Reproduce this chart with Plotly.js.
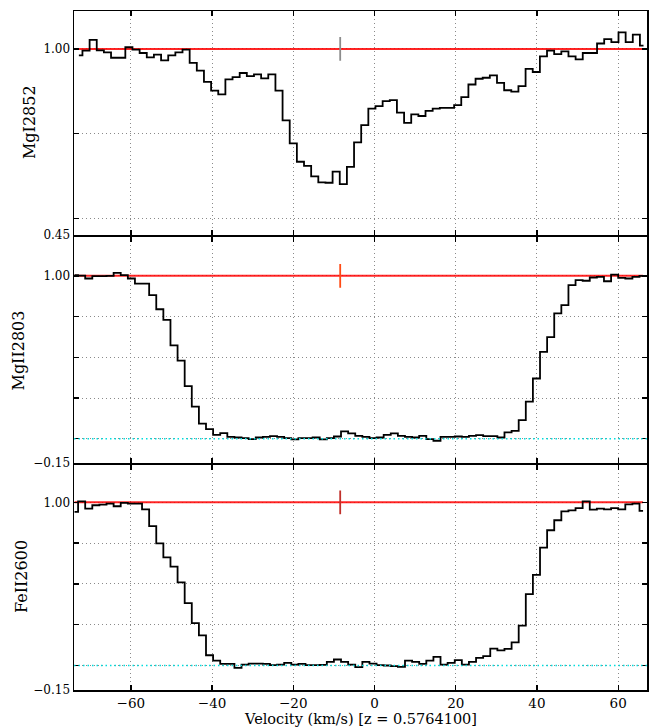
<!DOCTYPE html>
<html>
<head>
<meta charset="utf-8">
<script src="https://cdn.plot.ly/plotly-3.0.1.min.js"></script>
<style>html,body{margin:0;padding:0;background:#fff;}#chart{width:651px;height:727px;}</style>
</head>
<body>
<div id="chart"></div>
<script>
// ---- data ----
const transitions = ['MgI2852', 'MgII2803', 'FeII2600'];
const redshiftLabel = 'Velocity (km/s) [z = 0.5764100]';

// velocity pixel centres for MgI2852 (km/s)
const velMgI2852 = [-72.8, -71.04, -69.28, -67.52, -65.76, -64.0, -62.24, -60.48, -58.72, -56.96,
  -55.2, -53.44, -51.68, -49.92, -48.16, -46.4, -44.64, -42.88, -41.12, -39.36,
  -37.6, -35.84, -34.08, -32.32, -30.56, -28.8, -27.04, -25.28, -23.52, -21.76,
  -20.0, -18.24, -16.48, -14.72, -12.96, -11.2, -9.44, -7.68, -5.92, -4.16,
  -2.4, -0.64, 1.12, 2.88, 4.64, 6.4, 8.16, 9.92, 11.68, 13.44,
  15.2, 16.96, 18.72, 20.48, 22.24, 24.0, 25.76, 27.52, 29.28, 31.04,
  32.8, 34.56, 36.32, 38.08, 39.84, 41.6, 43.36, 45.12, 46.88, 48.64,
  50.4, 52.16, 53.92, 55.68, 57.44, 59.2, 60.96, 62.72, 64.48, 66.24];
const fluxMgI2852 = [0.981, 0.995, 1.027, 0.996, 0.990, 0.974, 0.974, 1.005, 0.998, 0.988,
  0.975, 0.983, 0.966, 0.981, 0.990, 0.998, 0.959, 0.936, 0.903, 0.877,
  0.866, 0.910, 0.917, 0.929, 0.920, 0.925, 0.913, 0.925, 0.877, 0.789,
  0.721, 0.667, 0.655, 0.624, 0.606, 0.605, 0.638, 0.601, 0.652, 0.724,
  0.775, 0.824, 0.831, 0.846, 0.849, 0.812, 0.782, 0.807, 0.802, 0.817,
  0.824, 0.826, 0.826, 0.834, 0.858, 0.895, 0.912, 0.915, 0.922, 0.900,
  0.878, 0.874, 0.890, 0.941, 0.932, 0.978, 0.995, 0.985, 0.993, 0.978,
  0.969, 0.988, 0.988, 1.016, 1.029, 1.020, 1.049, 1.020, 1.042, 1.010];

// velocity pixel centres for MgII2803 and FeII2600 (km/s)
const velMgII = [-73.87, -72.12, -70.37, -68.62, -66.87, -65.12, -63.37, -61.62, -59.87, -58.12, -56.37,
  -54.62, -52.87, -51.12, -49.37, -47.62, -45.87, -44.12, -42.37, -40.62, -38.87,
  -37.12, -35.37, -33.62, -31.87, -30.12, -28.37, -26.62, -24.87, -23.12, -21.37,
  -19.62, -17.87, -16.12, -14.37, -12.62, -10.87, -9.12, -7.37, -5.62, -3.87,
  -2.12, -0.37, 1.38, 3.13, 4.88, 6.63, 8.38, 10.13, 11.88, 13.63,
  15.38, 17.13, 18.88, 20.63, 22.38, 24.13, 25.88, 27.63, 29.38, 31.13,
  32.88, 34.63, 36.38, 38.13, 39.88, 41.63, 43.38, 45.13, 46.88, 48.63,
  50.38, 52.13, 53.88, 55.63, 57.38, 59.13, 60.88, 62.63, 64.38, 66.13];
const velFeII = velMgII;
const fluxMgII2803 = [1.004, 1.002, 0.984, 0.998, 0.998, 1.000, 1.018, 1.004, 0.984, 0.953, 0.953,
  0.882, 0.795, 0.730, 0.573, 0.480, 0.323, 0.197, 0.093, 0.059, 0.024,
  0.035, 0.012, 0.008, 0.004, -0.002, 0.008, 0.012, 0.016, 0.012, 0.004,
  -0.004, 0.004, 0.004, 0.008, -0.004, 0.004, 0.014, 0.045, 0.033, 0.018,
  0.012, 0.004, 0.008, 0.024, 0.033, 0.018, 0.012, 0.008, 0.018, -0.002,
  -0.012, 0.012, 0.012, 0.014, 0.012, 0.018, 0.022, 0.016, 0.016, 0.008,
  0.039, 0.049, 0.114, 0.228, 0.370, 0.533, 0.624, 0.770, 0.821, 0.943,
  0.974, 0.970, 0.990, 0.994, 0.967, 1.008, 0.988, 0.984, 0.994, 1.000];
const fluxFeII2600 = [0.941, 1.006, 0.961, 0.982, 0.986, 0.992, 0.976, 0.996, 0.992, 0.992, 0.957,
  0.854, 0.748, 0.663, 0.606, 0.510, 0.382, 0.260, 0.185, 0.063, 0.030,
  0.010, 0.010, -0.014, 0.006, 0.012, 0.012, 0.010, 0.002, 0.006, 0.016,
  0.006, 0.010, 0.002, 0.002, 0.004, 0.022, 0.037, 0.022, 0.006, -0.010,
  0.022, 0.012, 0.002, 0.000, -0.004, -0.008, 0.030, 0.022, 0.010, 0.030,
  0.053, 0.006, 0.016, 0.033, 0.006, 0.022, 0.047, 0.057, 0.104, 0.093,
  0.102, 0.142, 0.244, 0.437, 0.555, 0.722, 0.829, 0.890, 0.945, 0.951,
  0.965, 1.006, 0.955, 0.961, 0.957, 0.965, 0.957, 0.988, 0.992, 0.947];

const continuumLevel = 1.0;
const zeroLevel = 0.0;
const componentVelocity = -8.45;
const markerHalfHeight = [0.035, 0.073, 0.073];
const markerColors = ['#8c8c8c', '#ff4a14', '#c0302a'];

const xRange = [-74, 67.1];
const yRanges = [[0.45, 1.112], [-0.15, 1.24], [-0.15, 1.23]];
const yTickVals = [[0.45, 0.5, 0.75, 1.0], [-0.15, 0, 0.25, 0.5, 0.75, 1.0], [-0.15, 0, 0.25, 0.5, 0.75, 1.0]];
const yTickText = [['0.45', '', '', '1.00'], ['\u22120.15', '', '', '', '', '1.00'], ['\u22120.15', '', '', '', '', '1.00']];
const xTickVals = [-60, -40, -20, 0, 20, 40, 60];

const vels = [velMgI2852, velMgII, velFeII];
const fluxes = [fluxMgI2852, fluxMgII2803, fluxFeII2600];

// ---- build figure ----
const font = 'DejaVu Serif, serif';
const traces = [];
const shapes = [];
const annotations = [];
const layout = {
  width: 651, height: 727,
  margin: {l: 74, r: 4, t: 11, b: 37},
  paper_bgcolor: '#fff', plot_bgcolor: '#fff',
  showlegend: false,
  font: {family: font, color: '#000'}
};
const domains = [[0.6697, 1.0], [0.3340, 0.6675], [0.0, 0.3317]];
const yTitleX = [-0.0785, -0.0969, -0.0908];
const yTitleY = [0.8365, 0.5007, 0.1679];
const gridDash = '1px,3px';

for (let i = 0; i < 3; i++) {
  const xa = i === 0 ? 'x' : 'x' + (i + 1);
  const ya = i === 0 ? 'y' : 'y' + (i + 1);
  const xk = i === 0 ? 'xaxis' : 'xaxis' + (i + 1);
  const yk = i === 0 ? 'yaxis' : 'yaxis' + (i + 1);
  const v = vels[i];
  // continuum
  traces.push({x: [v[0], v[v.length - 1]], y: [continuumLevel, continuumLevel], xaxis: xa, yaxis: ya,
    mode: 'lines', line: {color: 'rgba(255,0,0,0.85)', width: 2}, hoverinfo: 'skip'});
  // flux
  traces.push({x: v, y: fluxes[i], xaxis: xa, yaxis: ya, mode: 'lines',
    line: {color: '#000', width: 1.8, shape: 'hvh'}, name: transitions[i]});
  // component marker
  traces.push({x: [componentVelocity, componentVelocity],
    y: [continuumLevel - markerHalfHeight[i], continuumLevel + markerHalfHeight[i]],
    xaxis: xa, yaxis: ya, mode: 'lines', line: {color: markerColors[i], width: 1.8}, hoverinfo: 'skip'});
  if (i > 0) {
    shapes.push({type: 'line', xref: xa + ' domain', yref: ya, x0: 0, x1: 1, y0: zeroLevel, y1: zeroLevel,
      line: {color: '#00dede', width: 1.5, dash: '1.5px,3px'}, layer: 'above'});
  }
  layout[xk] = {
    domain: [0, 1], anchor: ya, range: xRange, tickvals: xTickVals,
    ticks: 'inside', ticklen: 5, tickwidth: 1.3, tickcolor: '#000',
    showline: true, linecolor: '#000', linewidth: 1.5, mirror: 'ticks',
    showgrid: true, gridcolor: '#8a8a8a', griddash: gridDash, gridwidth: 1, zeroline: false,
    showticklabels: i === 2, tickfont: {family: font, size: 13.5, color: '#000'}
  };
  layout[yk] = {
    domain: domains[i], anchor: xa, range: yRanges[i], tickvals: yTickVals[i], ticktext: yTickText[i],
    tickmode: 'array',
    ticks: 'inside', ticklen: 5, tickwidth: 1.3, tickcolor: '#000',
    showline: true, linecolor: '#000', linewidth: 1.5, mirror: 'ticks',
    showgrid: true, gridcolor: '#8a8a8a', griddash: gridDash, gridwidth: 1, zeroline: false,
    tickfont: {family: font, size: 12, color: '#000'}
  };
  annotations.push({text: transitions[i], xref: 'paper', yref: 'paper', x: yTitleX[i], y: yTitleY[i],
    xanchor: 'center', yanchor: 'middle', textangle: -90, showarrow: false,
    font: {family: font, size: 16, color: '#000'}});
}
// x axis title placed just below the tick labels, as in the reference
annotations.push({text: redshiftLabel, xref: 'paper', yref: 'paper', x: 0.5, y: -0.0425,
  xanchor: 'center', yanchor: 'middle', showarrow: false,
  font: {family: font, size: 14.5, color: '#000'}});
layout.shapes = shapes;
layout.annotations = annotations;

Plotly.newPlot('chart', traces, layout, {staticPlot: true, displayModeBar: false});
</script>
</body>
</html>
